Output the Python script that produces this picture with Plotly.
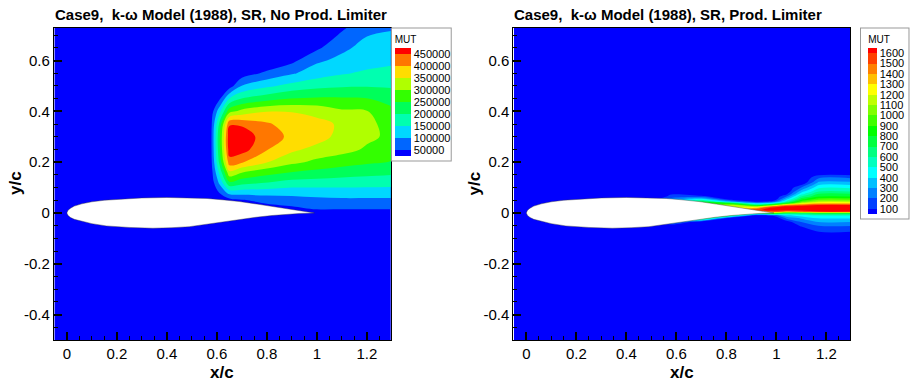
import numpy as np
import plotly.graph_objects as go

# ---------------- data: left panel (No Prod. Limiter), MUT in thousands ----------------
x_left = [-0.05, 0.57, 0.61, 0.65, 0.7, 0.8, 0.9, 1.0, 1.1, 1.2, 1.3]
y_left = [-0.5, -0.03, 0.0, 0.02, 0.05, 0.08, 0.12, 0.16, 0.2, 0.25, 0.3,
          0.35, 0.4, 0.45, 0.5, 0.55, 0.6, 0.65, 0.73]
mut_left_k = [
    [0, 0, 0, 0, 0, 0, 0, 0, 0, 0, 0],                 # -0.5
    [0, 0, 0, 0, 0, 0, 0, 0, 0, 0, 0],                 # -0.03
    [0, 0, 0, 0, 0, 0, 0, 30, 30, 30, 30],             # 0.0
    [0, 0, 0, 0, 0, 30, 43, 58, 58, 58, 58],           # 0.02
    [0, 0, 0, 30, 45, 67, 77, 86, 90, 90, 90],         # 0.05
    [0, 0, 52, 118, 122, 120, 117, 121, 125, 125, 125],  # 0.08
    [0, 0, 110, 243, 220, 202, 183, 179, 175, 172, 170],  # 0.12
    [0, 0, 160, 338, 302, 270, 248, 236, 225, 217, 210],  # 0.16
    [0, 0, 210, 428, 405, 352, 312, 288, 270, 257, 248],  # 0.2
    [0, 0, 235, 478, 472, 403, 361, 333, 318, 293, 267],  # 0.25
    [0, 0, 240, 485, 490, 415, 393, 373, 331, 310, 290],  # 0.3
    [0, 0, 210, 444, 440, 407, 375, 364, 343, 313, 281],  # 0.35
    [0, 0, 130, 281, 317, 348, 348, 336, 308, 302, 261],  # 0.4
    [0, 0, 40, 152, 202, 230, 252, 257, 256, 252, 233],  # 0.45
    [0, 0, 0, 25, 102, 140, 167, 186, 194, 196, 193],    # 0.5
    [0, 0, 0, 0, 20, 62, 94, 125, 145, 158, 165],        # 0.55
    [0, 0, 0, 0, 0, 0, 37, 92, 112, 130, 140],          # 0.6
    [0, 0, 0, 0, 0, 0, 0, 40, 90, 115, 125],             # 0.65
    [0, 0, 0, 0, 0, 0, 0, 0, 40, 88, 95],                # 0.73
]
levels_left = [50000, 100000, 150000, 200000, 250000, 300000, 350000, 400000, 450000]

# ---------------- data: right panel (Prod. Limiter), MUT ----------------
x_right = [-0.05, 0.5, 0.58, 0.7, 0.82, 0.92, 0.99, 1.04, 1.1, 1.17, 1.3]
y_right = [-0.5, -0.1, -0.075, -0.05, -0.035, -0.02, -0.01, 0.0, 0.005, 0.012,
           0.018, 0.025, 0.031, 0.038, 0.045, 0.055, 0.065, 0.075, 0.085, 0.1,
           0.12, 0.14, 0.16, 0.2, 0.73]
mut_right = [
    [0, 0, 0, 0, 0, 0, 0, 0, 0, 0, 0],                        # -0.5
    [0, 0, 0, 0, 0, 0, 0, 0, 0, 0, 0],                        # -0.1
    [0, 0, 0, 0, 0, 0, 0, 0, 0, 95, 95],                      # -0.075
    [0, 0, 0, 0, 0, 0, 0, 0, 117, 205, 205],                  # -0.05
    [0, 0, 350, 0, 0, 0, 0, 55, 205, 305, 305],               # -0.035
    [0, 0, 350, 900, 0, 0, 0, 229, 322, 409, 409],            # -0.02
    [0, 0, 350, 900, 700, 0, 130, 371, 443, 505, 505],        # -0.01
    [0, 0, 350, 900, 1200, 800, 1000, 733, 733, 810, 810],    # 0.0
    [0, 0, 350, 900, 1200, 1400, 1500, 1360, 1467, 1590, 1590],  # 0.005
    [0, 0, 350, 900, 1200, 1550, 1700, 1668, 1675, 1681, 1681],  # 0.012
    [0, 0, 350, 900, 1200, 1450, 1700, 1750, 1750, 1750, 1750],  # 0.018
    [0, 0, 350, 900, 1200, 1100, 1500, 1645, 1655, 1669, 1669],  # 0.025
    [0, 0, 350, 900, 1100, 705, 1010, 1400, 1510, 1610, 1610],   # 0.031
    [0, 0, 350, 900, 810, 350, 505, 810, 1170, 1305, 1305],      # 0.038
    [0, 0, 350, 705, 300, 60, 150, 540, 950, 1125, 1125],        # 0.045
    [0, 0, 250, 420, 0, 0, 0, 350, 750, 950, 950],               # 0.055
    [0, 0, 130, 130, 0, 0, 0, 205, 605, 789, 789],               # 0.065
    [0, 0, 90, 0, 0, 0, 0, 75, 463, 705, 705],                   # 0.075
    [0, 0, 0, 0, 0, 0, 0, 0, 350, 592, 592],                     # 0.085
    [0, 0, 0, 0, 0, 0, 0, 0, 205, 477, 477],                     # 0.1
    [0, 0, 0, 0, 0, 0, 0, 0, 0, 323, 323],                       # 0.12
    [0, 0, 0, 0, 0, 0, 0, 0, 0, 177, 177],                       # 0.14
    [0, 0, 0, 0, 0, 0, 0, 0, 0, 0, 0],                           # 0.16
    [0, 0, 0, 0, 0, 0, 0, 0, 0, 0, 0],                           # 0.2
    [0, 0, 0, 0, 0, 0, 0, 0, 0, 0, 0],                           # 0.73
]
levels_right = [100, 200, 300, 400, 500, 600, 700, 800, 900, 1000, 1100,
                1200, 1300, 1400, 1500, 1600]

# ---------------- airfoil outline ----------------
airfoil_xu = [0.0, 0.005, 0.015, 0.03, 0.06, 0.1, 0.15, 0.22, 0.3, 0.4, 0.5,
              0.56, 0.62, 0.69, 0.76, 0.82, 0.88, 0.93, 0.99]
airfoil_yu = [0.0, 0.011, 0.019, 0.027, 0.036, 0.044, 0.050, 0.055, 0.059, 0.061,
              0.060, 0.057, 0.052, 0.045, 0.035, 0.026, 0.016, 0.009, 0.0]
airfoil_xl = [0.0, 0.005, 0.015, 0.03, 0.065, 0.1, 0.158, 0.25, 0.344, 0.42, 0.49,
              0.56, 0.636, 0.7, 0.756, 0.82, 0.875, 0.93, 0.99]
airfoil_yl = [0.0, -0.010, -0.018, -0.025, -0.034, -0.042, -0.051, -0.057, -0.060,
              -0.058, -0.054, -0.046, -0.034, -0.025, -0.017, -0.010, -0.005,
              -0.002, 0.0]

x_ticks = [0, 0.2, 0.4, 0.6, 0.8, 1.0, 1.2]
x_ticklabels = ["0", "0.2", "0.4", "0.6", "0.8", "1", "1.2"]
y_ticks = [-0.4, -0.2, 0, 0.2, 0.4, 0.6]
y_ticklabels = ["-0.4", "-0.2", "0", "0.2", "0.4", "0.6"]

titles = ["Case9,\u00a0 k-\u03c9 Model (1988), SR, No Prod. Limiter",
          "Case9,\u00a0 k-\u03c9 Model (1988), SR, Prod. Limiter"]

# ---------------- styles ----------------
FONT = "Liberation Sans, Arial, Helvetica, sans-serif"
colors_left = ["#0000FF", "#0066FF", "#00D8FF", "#00FFB0", "#00FF5A",
               "#33FF00", "#B0FF00", "#FFDD00", "#FF7700", "#FF0000"]
colors_right = ["#0000FF", "#0040FF", "#0080FF", "#00BFFF", "#00FFFF", "#00FFBF",
                "#00FF80", "#00FF40", "#00FF00", "#40FF00", "#80FF00", "#BFFF00",
                "#FFFF00", "#FFBF00", "#FF8000", "#FF4000", "#FF0000"]


def stepscale(cols):
    n = len(cols)
    return [[i / (n - 1), c] for i, c in enumerate(cols)]


W, H = 910, 382
L_dom = [54 / W, 392 / W]
R_dom = [515 / W, 853 / W]
Y_dom = [1 - 340 / H, 1 - 28 / H]

fig = go.Figure()

z_left = np.array(mut_left_k, dtype=float) * 1000.0
fig.add_trace(go.Contour(
    x=x_left, y=y_left, z=z_left, xaxis="x", yaxis="y",
    autocontour=False,
    contours=dict(start=levels_left[0], end=levels_left[-1],
                  size=levels_left[1] - levels_left[0],
                  coloring="fill", showlines=False),
    line=dict(width=0),
    colorscale=stepscale(colors_left),
    hoverinfo="skip",
    colorbar=dict(
        x=393 / W, xanchor="left", y=1 - 28 / H, yanchor="top",
        len=132, lenmode="pixels", thickness=16, thicknessmode="pixels",
        outlinewidth=0, bgcolor="white", bordercolor="#999999", borderwidth=1,
        xpad=3, ypad=4,
        title=dict(text="MUT", side="top", font=dict(family=FONT, size=10, color="black")),
        tickvals=levels_left, ticktext=[str(v) for v in levels_left],
        ticks="", tickfont=dict(family=FONT, size=11, color="black"),
    ),
))

fig.add_trace(go.Contour(
    x=x_right, y=y_right, z=mut_right, xaxis="x2", yaxis="y2",
    autocontour=False,
    contours=dict(start=levels_right[0], end=levels_right[-1],
                  size=levels_right[1] - levels_right[0],
                  coloring="fill", showlines=False),
    line=dict(width=0),
    colorscale=stepscale(colors_right),
    hoverinfo="skip",
    colorbar=dict(
        x=864 / W, xanchor="left", y=1 - 28 / H, yanchor="top",
        len=190, lenmode="pixels", thickness=9, thicknessmode="pixels",
        outlinewidth=0, bgcolor="white", bordercolor="#999999", borderwidth=1,
        xpad=7, ypad=4,
        title=dict(text="MUT", side="top", font=dict(family=FONT, size=10, color="black")),
        tickvals=levels_right, ticktext=[str(v) for v in levels_right],
        ticks="", tickfont=dict(family=FONT, size=11, color="black"),
    ),
))

foil_x = airfoil_xu + airfoil_xl[::-1]
foil_y = airfoil_yu + airfoil_yl[::-1]
for xa, ya in [("x", "y"), ("x2", "y2")]:
    fig.add_trace(go.Scatter(
        x=foil_x, y=foil_y, xaxis=xa, yaxis=ya, mode="lines",
        fill="toself", fillcolor="white",
        line=dict(color="rgba(60,60,60,0.7)", width=0.6),
        hoverinfo="skip", showlegend=False,
    ))

axis_common = dict(
    showgrid=False, zeroline=False, showline=True, linecolor="black", linewidth=1,
    mirror=True, ticks="inside", ticklen=8, tickwidth=1.5, tickcolor="black",
    tickfont=dict(family=FONT, size=15, color="black"),
)
xminor = dict(dtick=0.05, tick0=0, ticks="inside", ticklen=4, tickcolor="black", tickwidth=1)

fig.update_layout(
    width=W, height=H, margin=dict(l=0, r=0, t=0, b=0),
    paper_bgcolor="white", plot_bgcolor="white", showlegend=False,
    font=dict(family=FONT, color="black"),
    xaxis=dict(domain=L_dom, range=[-0.052, 1.295], anchor="y",
               tickvals=x_ticks, ticktext=x_ticklabels, minor=xminor, **axis_common),
    yaxis=dict(domain=Y_dom, range=[-0.5, 0.728], anchor="x",
               tickvals=y_ticks, ticktext=y_ticklabels, minor=xminor, **axis_common),
    xaxis2=dict(domain=R_dom, range=[-0.052, 1.295], anchor="y2",
                tickvals=x_ticks, ticktext=x_ticklabels, minor=xminor, **axis_common),
    yaxis2=dict(domain=Y_dom, range=[-0.5, 0.728], anchor="x2",
                tickvals=y_ticks, ticktext=y_ticklabels, minor=xminor, **axis_common),
)

annots = []
for i, (dom, title) in enumerate([(L_dom, titles[0]), (R_dom, titles[1])]):
    annots.append(dict(text="<b>%s</b>" % title, xref="paper", yref="paper",
                       x=dom[0] - 1 / W, y=1 - 15 / H, xanchor="left", yanchor="middle",
                       showarrow=False, font=dict(family=FONT, size=15, color="black")))
    annots.append(dict(text="<b>x/c</b>", xref="paper", yref="paper",
                       x=(dom[0] + dom[1]) / 2, y=1 - 372 / H, xanchor="center",
                       yanchor="middle", showarrow=False,
                       font=dict(family=FONT, size=17, color="black")))
    annots.append(dict(text="<b>y/c</b>", xref="paper", yref="paper",
                       x=(dom[0] * W - 39) / W, y=1 - 183 / H, xanchor="center",
                       yanchor="middle", textangle=-90, showarrow=False,
                       font=dict(family=FONT, size=17, color="black")))
fig.update_layout(annotations=annots)

fig.write_html("out.html")
